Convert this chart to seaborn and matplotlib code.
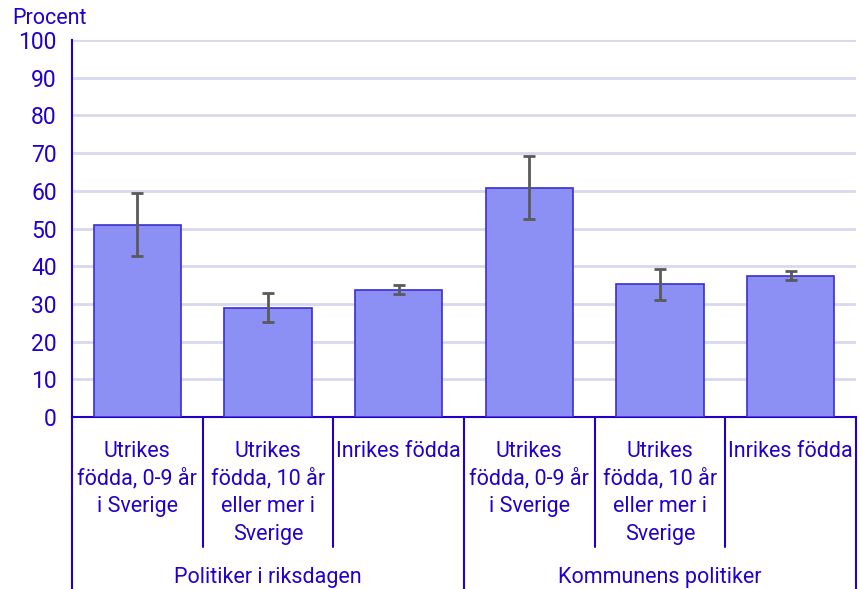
import pandas as pd
import matplotlib
matplotlib.use("Agg")
import matplotlib.pyplot as plt
import seaborn as sns

groups = ["Politiker i riksdagen", "Kommunens politiker"]
categories = [
    "Utrikes\nfödda, 0-9 år\ni Sverige",
    "Utrikes\nfödda, 10 år\neller mer i\nSverige",
    "Inrikes födda",
]
values = [51.0, 29.0, 33.8, 60.7, 35.2, 37.5]
err_low = [42.7, 25.3, 32.5, 52.5, 31.0, 36.3]
err_high = [59.3, 32.8, 35.0, 69.1, 39.2, 38.8]

text_col = "#2200cc"
bar_col = "#8c90f5"
edge_col = "#3a2ed2"

sns.set_style("white")
plt.rcParams["font.family"] = ["Roboto", "DejaVu Sans"]
plt.rcParams["font.size"] = 15.5

keys = [f"{g}|{c}" for g in groups for c in categories]
df = pd.DataFrame({"key": keys, "value": values})

fig = plt.figure(figsize=(8.63, 5.89), dpi=100)
ax = fig.add_axes([72 / 863, 1 - 417 / 589, (856 - 72) / 863, (417 - 40) / 589])

sns.barplot(data=df, x="key", y="value", order=keys, color=bar_col,
            edgecolor=edge_col, linewidth=1.2, width=0.67, saturation=1,
            errorbar=None, ax=ax, zorder=3)

lo = [v - l for v, l in zip(values, err_low)]
hi = [h - v for v, h in zip(values, err_high)]
ax.errorbar(range(len(values)), values, yerr=[lo, hi], fmt="none",
            ecolor="#5a5a5a", elinewidth=2, capsize=4.5, capthick=2, zorder=4)

ax.set_xlim(-0.5, len(values) - 0.5)
ax.set_ylim(0, 100)
ax.set_yticks(range(0, 101, 10))
ax.yaxis.grid(True, color="#d8d8f0", linewidth=2, zorder=0)
ax.set_axisbelow(True)
ax.set_xlabel("")
ax.set_ylabel("")

ax.set_xticks(range(len(values)))
ax.set_xticklabels(categories * 2, color=text_col, linespacing=1.4, va="top",
                   fontsize=15.5)
ax.tick_params(axis="x", length=0, pad=17)
ax.tick_params(axis="y", colors=text_col, length=6, width=1.5, labelsize=16.5, pad=5)

for s in ["top", "right"]:
    ax.spines[s].set_visible(False)
for s in ["left", "bottom"]:
    ax.spines[s].set_color(text_col)
    ax.spines[s].set_linewidth(1.5)

trans = ax.get_xaxis_transform()
for x in [0.5, 1.5, 3.5, 4.5]:
    ax.plot([x, x], [0, -0.345], transform=trans, color=text_col, lw=1.5, clip_on=False)
for x in [-0.5, 2.5, 5.5]:
    ax.plot([x, x], [0, -0.47], transform=trans, color=text_col, lw=1.5, clip_on=False)

for i, g in enumerate(groups):
    ax.text(i * 3 + 1, -0.427, g, transform=trans, ha="center", va="center",
            color=text_col, fontsize=15.5)

fig.text(12 / 863, 1 - 18 / 589, "Procent", ha="left", va="center",
         color=text_col, fontsize=15.5)

fig.savefig("out.png", dpi=100)
